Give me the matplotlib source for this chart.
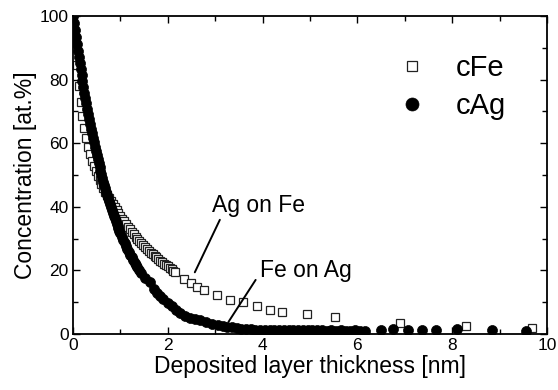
import matplotlib
matplotlib.use('Agg')
import matplotlib.pyplot as plt
from matplotlib.ticker import MultipleLocator

plt.rcParams['font.family'] = ['Liberation Sans', 'DejaVu Sans']

# cFe (open squares) - dense part then sparse tail
fe_x = [0.00, 0.04, 0.08, 0.12, 0.16, 0.20, 0.24, 0.28, 0.32, 0.36,
        0.40, 0.44, 0.48, 0.52, 0.56, 0.60, 0.64, 0.68, 0.72, 0.76,
        0.80, 0.84, 0.88, 0.92, 0.96, 1.00, 1.04, 1.08, 1.12, 1.16,
        1.20, 1.24, 1.28, 1.32, 1.36, 1.40, 1.44, 1.48, 1.52, 1.56,
        1.60, 1.64, 1.68, 1.72, 1.76, 1.80, 1.84, 1.88, 1.92, 1.96,
        2.00, 2.04, 2.08, 2.12, 2.16, 2.34, 2.48, 2.62, 2.76, 3.04,
        3.31, 3.59, 3.88, 4.16, 4.40, 4.94, 5.53, 6.90, 8.30, 9.68]
fe_y = [100, 92, 84.5, 78, 72.8, 68.5, 64.8, 61.5, 58.8, 56.5,
        54.5, 52.9, 51.3, 49.8, 48.5, 47.2, 46.0, 44.8, 43.8, 42.7,
        41.8, 40.8, 39.9, 39.0, 38.1, 37.2, 36.3, 35.4, 34.6, 33.7,
        32.9, 32.1, 31.3, 30.5, 29.8, 29.1, 28.5, 27.9, 27.3, 26.8,
        26.2, 25.6, 25.1, 24.6, 24.1, 23.6, 23.1, 22.6, 22.1, 21.6,
        21.3, 20.8, 20.3, 19.9, 19.5, 17.3, 15.9, 14.8, 13.9, 12.3,
        10.7, 10.1, 8.8, 7.6, 7.0, 6.3, 5.4, 3.5, 2.5, 2.0]

# cAg (filled circles)
ag_x = [0.00, 0.02, 0.04, 0.06, 0.08, 0.10, 0.12, 0.14, 0.16, 0.18,
        0.20, 0.22, 0.24, 0.26, 0.28, 0.30, 0.32, 0.34, 0.36, 0.38,
        0.40, 0.42, 0.44, 0.46, 0.48, 0.50, 0.52, 0.54, 0.56, 0.58,
        0.60, 0.62, 0.64, 0.66, 0.68, 0.70, 0.72, 0.74, 0.76, 0.78,
        0.80, 0.82, 0.84, 0.86, 0.88, 0.90, 0.92, 0.94, 0.96, 0.98,
        1.00, 1.03, 1.06, 1.09, 1.12, 1.15, 1.18, 1.21, 1.24, 1.27,
        1.30, 1.33, 1.36, 1.40, 1.44, 1.52, 1.62, 1.70, 1.77, 1.84,
        1.90, 2.00, 2.09, 2.18, 2.26, 2.36, 2.47, 2.58, 2.68, 2.80,
        2.93, 3.05, 3.17, 3.25, 3.35, 3.45, 3.55, 3.65, 3.75, 3.85,
        3.95, 4.05, 4.15, 4.25, 4.35, 4.45, 4.55, 4.65, 4.75, 4.85,
        4.95, 5.05, 5.15, 5.25, 5.35, 5.45, 5.55, 5.65, 5.75, 5.85,
        5.95, 6.05, 6.15, 6.50, 6.75, 7.07, 7.36, 7.66, 8.10, 8.84,
        9.56]
ag_y = [100, 97.7, 95.5, 93.3, 91.2, 89.1, 87.1, 85.1, 83.2, 81.3,
        79.5, 77.6, 75.9, 74.2, 72.5, 70.8, 69.2, 67.7, 66.1, 64.6,
        63.1, 61.7, 60.3, 58.9, 57.6, 56.3, 55.0, 53.7, 52.5, 51.3,
        50.2, 49.0, 47.9, 46.8, 45.8, 44.7, 43.7, 42.7, 41.7, 40.8,
        39.9, 39.0, 38.1, 37.2, 36.4, 35.5, 34.7, 33.9, 33.2, 32.4,
        31.7, 30.6, 29.6, 28.5, 27.6, 26.7, 25.8, 24.9, 24.1, 23.2,
        22.4, 21.7, 21.0, 20.0, 19.2, 17.6, 16.2, 14.2, 12.8, 11.9,
        11.0, 9.8, 8.8, 7.6, 6.6, 5.8, 5.0, 4.6, 4.3, 3.8,
        3.3, 2.9, 2.5, 2.3, 2.1, 1.9, 1.7, 1.6, 1.5, 1.4,
        1.3, 1.3, 1.2, 1.3, 1.2, 1.2, 1.1, 1.2, 1.1, 1.2,
        1.1, 1.1, 1.2, 1.1, 1.0, 1.1, 1.0, 1.1, 1.0, 1.0,
        1.1, 1.0, 1.0, 1.2, 1.5, 1.4, 1.2, 1.2, 1.5, 1.2,
        1.0]

fig = plt.figure(figsize=(5.58, 3.9), dpi=100)
ax = fig.add_axes([0.1308, 0.1436, 0.8495, 0.8154])

ax.plot(fe_x, fe_y, 's', ms=5.5, mfc='white', mec='#222222', mew=0.9,
        label='cFe', zorder=2)
ax.plot(ag_x, ag_y, 'o', ms=7.2, mfc='black', mec='black', mew=0.5,
        label='cAg', zorder=3)

ax.set_xlim(0, 10)
ax.set_ylim(0, 100)
ax.xaxis.set_major_locator(MultipleLocator(2))
ax.xaxis.set_minor_locator(MultipleLocator(1))
ax.yaxis.set_major_locator(MultipleLocator(20))
ax.yaxis.set_minor_locator(MultipleLocator(10))
ax.tick_params(which='both', direction='in', top=True, right=True,
               width=1.0, labelsize=12.5, pad=3)
ax.tick_params(which='major', length=5)
ax.tick_params(which='minor', length=3.5)
for s in ax.spines.values():
    s.set_linewidth(1.3)

ax.set_xlabel('Deposited layer thickness [nm]', fontsize=16.5, labelpad=1)
ax.set_ylabel('Concentration [at.%]', fontsize=16.5, labelpad=2)

# annotations
ax.annotate('Ag on Fe', xy=(2.57, 19.4), xytext=(2.93, 40.4),
            fontsize=16.5, va='center', ha='left',
            arrowprops=dict(arrowstyle='-', color='black', lw=1.4,
                            shrinkA=0, shrinkB=0,
                            relpos=(0.1, 0.0)))
ax.annotate('Fe on Ag', xy=(3.28, 3.8), xytext=(3.95, 19.9),
            fontsize=16.5, va='center', ha='left',
            arrowprops=dict(arrowstyle='-', color='black', lw=1.4,
                            shrinkA=0, shrinkB=0,
                            relpos=(-0.05, 0.1)))

ax.legend(loc='upper left', bbox_to_anchor=(0.7115, 0.862),
          bbox_transform=fig.transFigure, frameon=False, fontsize=21,
          markerscale=1.3, handlelength=1.0, handletextpad=1.0,
          labelspacing=0.35, borderpad=0, borderaxespad=0)

fig.savefig('out.png', dpi=100)
